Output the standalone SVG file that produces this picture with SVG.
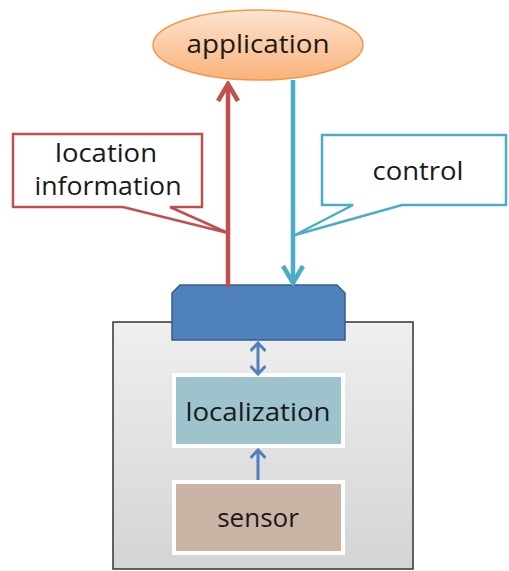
<svg xmlns="http://www.w3.org/2000/svg" width="509" height="571" viewBox="0 0 509 571">
<defs>
<linearGradient id="gOr" x1="0" y1="0" x2="0" y2="1"><stop offset="0" stop-color="#fde4cf"/><stop offset="1" stop-color="#f9b27a"/></linearGradient>
<linearGradient id="gGr" x1="0" y1="0" x2="0" y2="1"><stop offset="0" stop-color="#efefef"/><stop offset="1" stop-color="#d4d4d4"/></linearGradient>
<marker id="mR" viewBox="0 0 24 24" refX="21" refY="12" markerWidth="24" markerHeight="24" orient="auto-start-reverse" markerUnits="userSpaceOnUse"><path d="M4,2 L21,12 L4,22" fill="none" stroke="#c0504d" stroke-width="4.5"/></marker>
<marker id="mT" viewBox="0 0 24 24" refX="21" refY="12" markerWidth="24" markerHeight="24" orient="auto-start-reverse" markerUnits="userSpaceOnUse"><path d="M4,2 L21,12 L4,22" fill="none" stroke="#4bacc6" stroke-width="4.5"/></marker>
<marker id="mB" viewBox="0 0 16 16" refX="14" refY="8" markerWidth="16" markerHeight="16" orient="auto-start-reverse" markerUnits="userSpaceOnUse"><path d="M6,0.5 L14,8 L6,15.5" fill="none" stroke="#4f81bd" stroke-width="3"/></marker>
</defs>
<style>
text{font-family:"Open Sans","Liberation Sans",sans-serif;fill:#1a1a1a;text-anchor:middle;}
.t{font-size:26px;}
</style>
<g id="container"><rect x="113" y="322" width="300" height="247" fill="url(#gGr)" stroke="#333" stroke-width="1.5"/></g>
<g id="interface"><path d="M180,285 L337,285 L345,293 L345,340 L172,340 L172,293 Z" fill="#4f81bd" stroke="#385d8a" stroke-width="1.5"/></g>
<g id="application"><ellipse cx="258" cy="45" rx="105" ry="35" fill="url(#gOr)" stroke="#f79646" stroke-width="1.5"/><text class="t" x="258" y="53" textLength="143" lengthAdjust="spacingAndGlyphs">application</text></g>
<g id="localization"><rect x="174" y="375" width="169" height="71" fill="#9dc3cd" stroke="#ffffff" stroke-width="4"/><text class="t" x="258" y="421" textLength="145" lengthAdjust="spacingAndGlyphs">localization</text></g>
<g id="sensor"><rect x="174" y="482" width="169" height="71" fill="#c9b4a6" stroke="#ffffff" stroke-width="4"/><text class="t" x="258" y="527">sensor</text></g>
<g id="callout-location"><path d="M13,134 L202,134 L202,207 L170,207 L228,233 L123,207 L13,207 Z" fill="#ffffff" stroke="#c0504d" stroke-width="2.5" stroke-linejoin="miter"/><text class="t" x="106" y="162" textLength="102" lengthAdjust="spacingAndGlyphs">location</text><text class="t" x="108" y="195" textLength="147" lengthAdjust="spacingAndGlyphs">information</text></g>
<g id="callout-control"><path d="M322,135 L506,135 L506,205 L402,205 L295,235 L353,205 L322,205 Z" fill="#ffffff" stroke="#4bacc6" stroke-width="2.5"/><text class="t" x="418" y="180" textLength="91" lengthAdjust="spacingAndGlyphs">control</text></g>
<g id="connectors">
<line x1="228" y1="287" x2="228" y2="84" stroke="#c0504d" stroke-width="4.5" marker-end="url(#mR)"/>
<line x1="293" y1="80" x2="293" y2="283" stroke="#4bacc6" stroke-width="4.5" marker-end="url(#mT)"/>
<line x1="258" y1="343" x2="258" y2="374" stroke="#4f81bd" stroke-width="3" marker-start="url(#mB)" marker-end="url(#mB)"/>
<line x1="258" y1="480" x2="258" y2="450" stroke="#4f81bd" stroke-width="3" marker-end="url(#mB)"/>
</g>
</svg>
